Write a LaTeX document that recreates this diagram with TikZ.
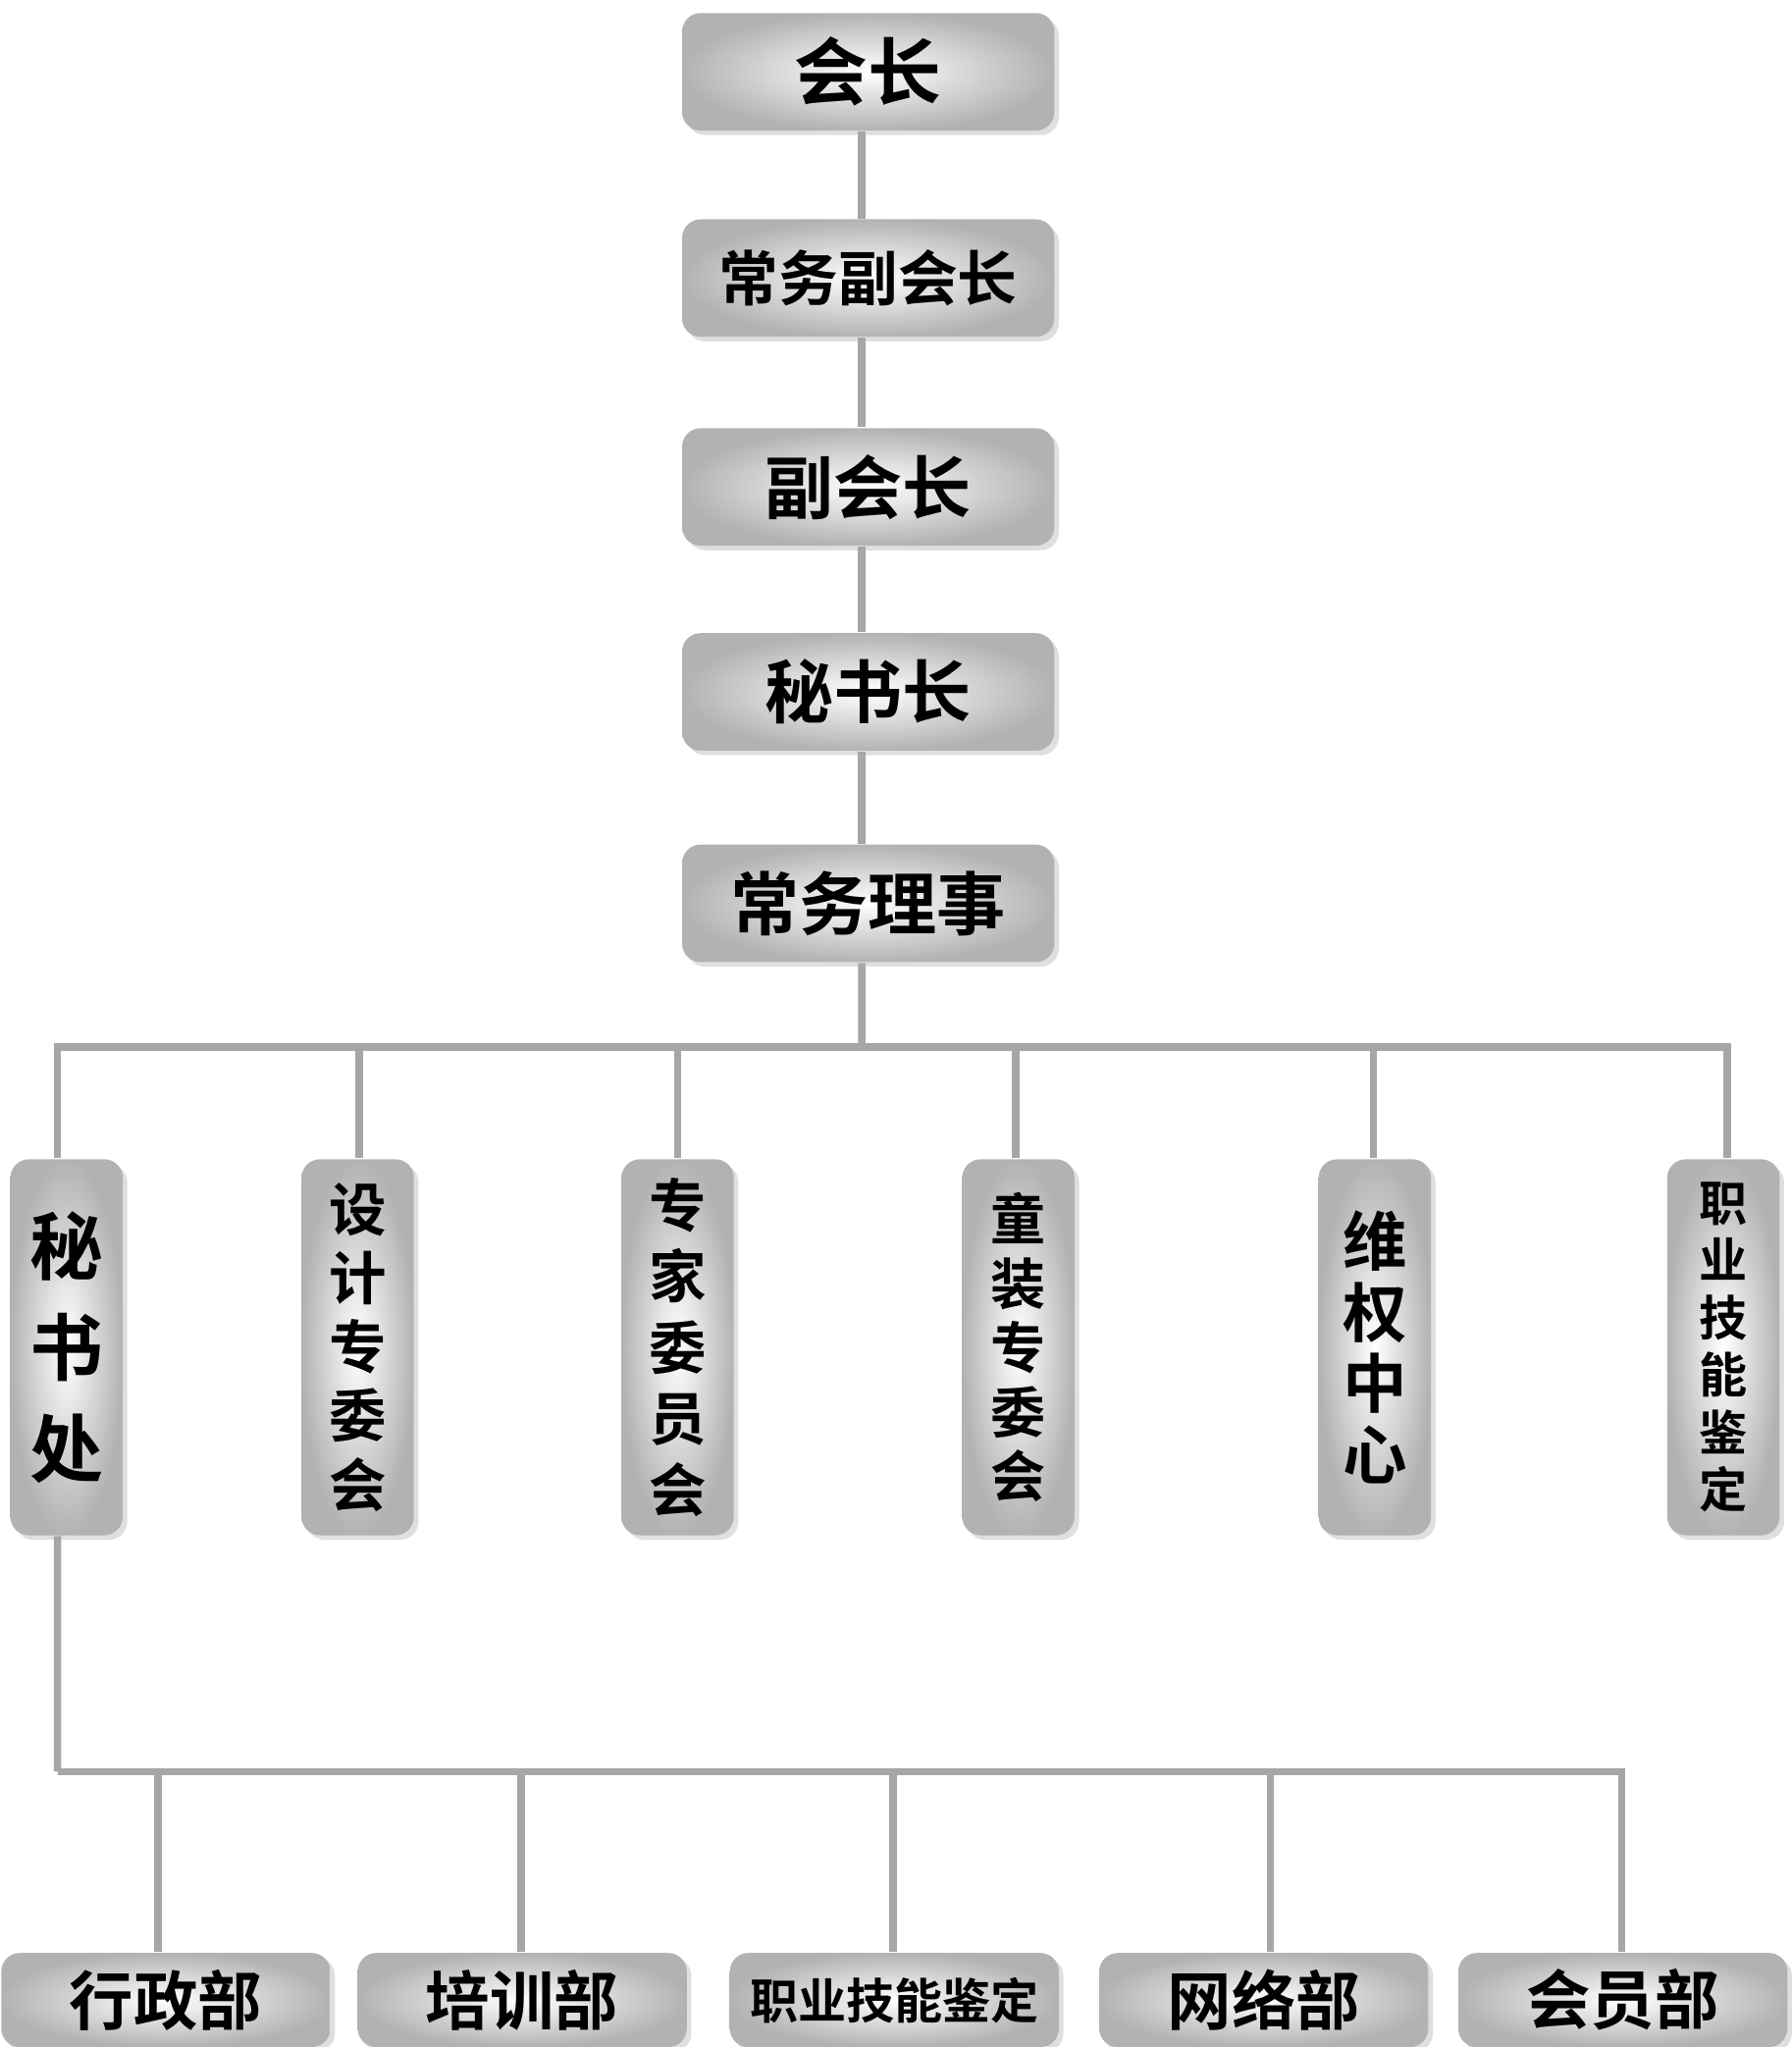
\documentclass[tikz,border=0pt]{standalone}
\usepackage{fontspec}
\setmainfont{Noto Sans CJK SC}[BoldFont={* Bold}]
\usetikzlibrary{positioning, shadows, calc}
\tikzset{
  post/.style={rectangle, rounded corners=4pt, draw=none,
               inner color=white, outer color=black!30,
               drop shadow={opacity=0.25, shadow xshift=1pt, shadow yshift=-1pt},
               font=\bfseries},
  topbox/.style={post, minimum width=2.85cm, minimum height=0.9cm},
  tallbox/.style={post, minimum width=0.86cm, minimum height=2.88cm,
                  align=center, inner sep=1pt},
  lowbox/.style={post, minimum width=2.52cm, minimum height=0.72cm},
  link/.style={draw=black!35, line width=1.6pt},
}
\begin{document}
\begin{tikzpicture}
  \useasboundingbox (0,0) rectangle (13.72,-15.68);
  % chain of offices
  \node[topbox, font=\bfseries\fontsize{16}{18}\selectfont] (pres) at (6.65,-0.55) {会长};
  \node[topbox, font=\bfseries\fontsize{13}{15}\selectfont] (evp) at (6.65,-2.13) {常务副会长};
  \node[topbox, font=\bfseries\fontsize{15}{17}\selectfont] (vp) at (6.65,-3.73) {副会长};
  \node[topbox, font=\bfseries\fontsize{15}{17}\selectfont] (sg) at (6.65,-5.30) {秘书长};
  \node[topbox, font=\bfseries\fontsize{15}{17}\selectfont] (board) at (6.65,-6.92) {常务理事};

  % departments
  \node[tallbox, font=\bfseries\fontsize{16}{22}\selectfont] (sec) at (0.51,-10.32) {秘\\书\\处};
  \node[tallbox, font=\bfseries\fontsize{12.5}{15}\selectfont] (design) at (2.74,-10.32) {设\\计\\专\\委\\会};
  \node[tallbox, font=\bfseries\fontsize{12.5}{15.5}\selectfont] (expert) at (5.19,-10.32) {专\\家\\委\\员\\会};
  \node[tallbox, font=\bfseries\fontsize{12}{14}\selectfont] (kids) at (7.80,-10.32) {童\\装\\专\\委\\会};
  \node[tallbox, font=\bfseries\fontsize{14}{15.5}\selectfont] (rights) at (10.53,-10.32) {维\\权\\中\\心};
  \node[tallbox, font=\bfseries\fontsize{10.5}{12.5}\selectfont] (skill) at (13.20,-10.32) {职\\业\\技\\能\\鉴\\定};

  % secretariat branches
  \node[lowbox, font=\bfseries\fontsize{14}{16}\selectfont] (admin) at (1.27,-15.32) {行政部};
  \node[lowbox, font=\bfseries\fontsize{14}{16}\selectfont] (train) at (4.00,-15.32) {培训部};
  \node[lowbox, font=\bfseries\fontsize{10.5}{12}\selectfont] (cert) at (6.85,-15.32) {职业技能鉴定};
  \node[lowbox, font=\bfseries\fontsize{14}{16}\selectfont] (net) at (9.68,-15.32) {网络部};
  \node[lowbox, font=\bfseries\fontsize{14}{16}\selectfont] (member) at (12.43,-15.32) {会员部};

  \begin{scope}[on background layer/.try]
  \draw[link] ([xshift=-0.05cm]pres.south) -- ([xshift=-0.05cm]evp.north);
  \draw[link] ([xshift=-0.05cm]evp.south) -- ([xshift=-0.05cm]vp.north);
  \draw[link] ([xshift=-0.05cm]vp.south) -- ([xshift=-0.05cm]sg.north);
  \draw[link] ([xshift=-0.05cm]sg.south) -- ([xshift=-0.05cm]board.north);

  \coordinate (bus) at (6.60,-8.02);
  \draw[link] ([xshift=-0.05cm]board.south) -- (bus);
  \foreach \d/\x in {sec/0.44, design/2.75, expert/5.19, kids/7.78, rights/10.52, skill/13.23}
    \draw[link] (bus) -| ([xshift=\x cm-\x cm]\x,-8.02) -- (\x,0 |- \d.north);

  \coordinate (bus2) at (0.44,-13.57);
  \draw[link] ([xshift=-0.07cm]sec.south) -- (bus2);
  \foreach \d/\x in {admin/1.21, train/3.99, cert/6.84, net/9.73, member/12.42}
    \draw[link] (bus2) -| (\x,0 |- \d.north);
  \end{scope}
\end{tikzpicture}
\end{document}
